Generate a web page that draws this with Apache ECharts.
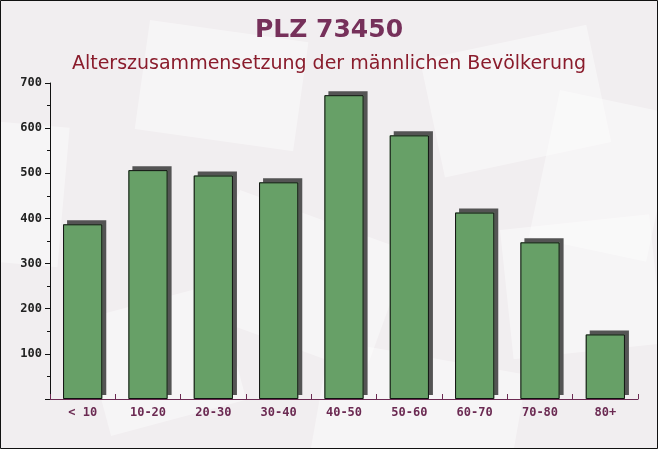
<!DOCTYPE html>
<html><head><meta charset="utf-8">
<script src="https://cdn.jsdelivr.net/npm/echarts@6/dist/echarts.min.js"></script>
<style>html,body{margin:0;padding:0;}#c{width:658px;height:449px;}</style>
</head><body><div id="c"></div>
<script>
var categories = ['< 10','10-20','20-30','30-40','40-50','50-60','60-70','70-80','80+'];
var values = [387, 507, 495, 480, 673, 584, 413, 347, 143];
var yTicks = [0,100,200,300,400,500,600,700];

var chart = echarts.init(document.getElementById('c'));
var deco = [];
var rects = [[150,20,160,110,-8],[420,60,170,120,12],[-20,120,90,140,-5],[240,190,180,130,-20],[500,230,150,130,6],[80,320,140,120,15],[330,340,200,120,-10],[560,90,120,150,-12]];
rects.forEach(function(r){
  deco.push({type:'rect', x:r[0], y:r[1], rotation:r[4]*Math.PI/180, shape:{x:0,y:0,width:r[2],height:r[3]}, style:{fill:'rgba(255,255,255,0.4)'}, silent:true, z:-10});
});
deco.push({type:'rect', shape:{x:0.5,y:0.5,width:657,height:448}, style:{fill:'none', stroke:'#111', lineWidth:1}, silent:true, z:100});

chart.setOption({
  backgroundColor:'#f1eef0',
  graphic: deco,
  title:[
    {text:'PLZ 73450', left:'center', top:13, textStyle:{fontFamily:'DejaVu Sans', fontWeight:'bold', fontSize:25, color:'#76305a'}},
    {text:'Alterszusammensetzung der männlichen Bevölkerung', left:'center', top:50, textStyle:{fontFamily:'DejaVu Sans', fontWeight:'normal', fontSize:19, color:'#8a1c2c'}}
  ],
  grid:{left:50, right:20, top:83, bottom:50, containLabel:false},
  xAxis:{type:'category', data:categories,
    axisLine:{lineStyle:{color:'#6b2a52', width:1}},
    axisTick:{show:true, inside:true, length:5, alignWithLabel:false, lineStyle:{color:'#6b2a52'}},
    axisLabel:{fontFamily:'DejaVu Sans Mono', fontWeight:'bold', fontSize:12, color:'#6b2a52', margin:8}},
  yAxis:{type:'value', min:0, max:700, interval:100,
    splitLine:{show:false},
    axisLine:{show:true, lineStyle:{color:'#111'}},
    axisTick:{show:true, length:5, lineStyle:{color:'#111'}},
    minorTick:{show:true, splitNumber:2, length:3, lineStyle:{color:'#111'}},
    axisLabel:{fontFamily:'DejaVu Sans Mono', fontWeight:'bold', fontSize:12, color:'#222', margin:8,
      formatter:function(v){return v===0?'':String(v);}}},
  series:[
    {type:'bar', data:values, barWidth:'60%',
      itemStyle:{color:'#67a067', borderWidth:0,
        shadowColor:'rgba(75,75,75,0.95)', shadowOffsetX:4, shadowOffsetY:-4, shadowBlur:0},
      emphasis:{disabled:true}, silent:true, z:2},
    {type:'bar', data:values, barWidth:'60%', barGap:'-100%',
      itemStyle:{color:'rgba(0,0,0,0)', borderColor:'#111', borderWidth:1},
      emphasis:{disabled:true}, silent:true, z:3}
  ]
});
</script></body></html>
